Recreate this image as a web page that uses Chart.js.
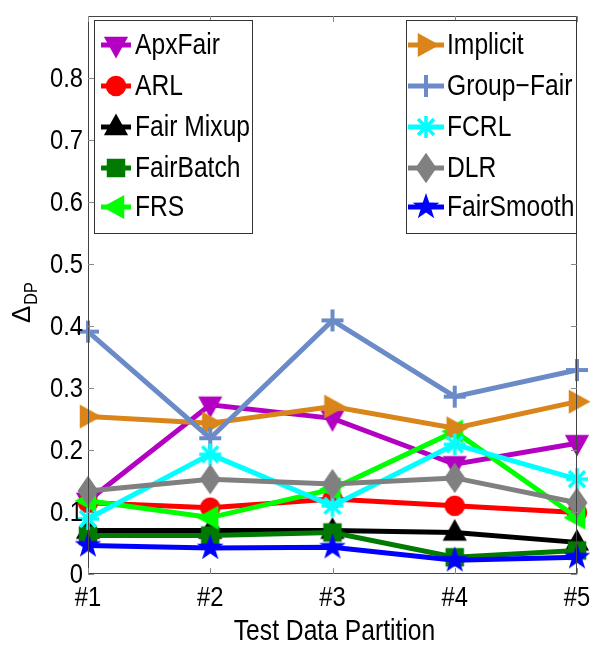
<!DOCTYPE html>
<html>
<head>
<meta charset="utf-8">
<script src="https://cdn.jsdelivr.net/npm/chart.js@4.4.0/dist/chart.umd.min.js"></script>
<style>
  html, body { margin: 0; padding: 0; background: #fff; }
  #wrap { width: 593px; height: 649px; }
</style>
</head>
<body>
<div id="wrap"><canvas id="myChart" width="593" height="649"></canvas></div>
<script>
// Datos
const particiones = ['#1', '#2', '#3', '#4', '#5'];

const apxFair    = [0.118, 0.273, 0.251, 0.177, 0.211];
const arl        = [0.115, 0.107, 0.121, 0.110, 0.099];
const fairMixup  = [0.070, 0.070, 0.070, 0.067, 0.051];
const fairBatch  = [0.062, 0.062, 0.067, 0.027, 0.038];
const frs        = [0.118, 0.091, 0.137, 0.230, 0.091];
const implicit   = [0.254, 0.243, 0.270, 0.235, 0.278];
const groupFair  = [0.391, 0.219, 0.409, 0.286, 0.329];
const fcrl       = [0.089, 0.193, 0.110, 0.209, 0.153];
const dlr        = [0.134, 0.153, 0.145, 0.155, 0.115];
const fairSmooth = [0.046, 0.042, 0.043, 0.022, 0.027];

const yTicks = [0, 0.1, 0.2, 0.3, 0.4, 0.5, 0.6, 0.7, 0.8];
const yTickLabels = ['0', '0.1', '0.2', '0.3', '0.4', '0.5', '0.6', '0.7', '0.8'];
const xTitulo = 'Test Data Partition';

const FONT = "'Liberation Sans', Arial, sans-serif";
const ESTRECHO = 0.85; // el texto original es condensado

// Marcadores estilo MATLAB dibujados en un canvas pequeño
function crearMarcador(tipo, color) {
    const c = document.createElement('canvas');
    c.width = 32; c.height = 32;
    const g = c.getContext('2d');
    g.translate(16, 16);
    g.fillStyle = color;
    g.strokeStyle = color;
    g.lineJoin = 'miter';
    g.lineWidth = 2.5;

    function tri(rot) {
        g.save();
        g.rotate(rot);
        g.beginPath();
        g.moveTo(0, -11);
        g.lineTo(10, 7);
        g.lineTo(-10, 7);
        g.closePath();
        g.fill(); g.stroke();
        g.restore();
    }

    if (tipo === 'down') tri(Math.PI);
    else if (tipo === 'up') tri(0);
    else if (tipo === 'left') tri(-Math.PI / 2);
    else if (tipo === 'right') tri(Math.PI / 2);
    else if (tipo === 'circle') {
        g.beginPath(); g.arc(0, 0, 9, 0, Math.PI * 2); g.fill(); g.stroke();
    } else if (tipo === 'square') {
        g.fillRect(-8, -8, 16, 16); g.strokeRect(-8, -8, 16, 16);
    } else if (tipo === 'diamond') {
        g.beginPath();
        g.moveTo(0, -13); g.lineTo(9, 0); g.lineTo(0, 13); g.lineTo(-9, 0);
        g.closePath(); g.fill(); g.stroke();
    } else if (tipo === 'plus') {
        g.lineWidth = 4;
        g.beginPath();
        g.moveTo(-11, 0); g.lineTo(11, 0);
        g.moveTo(0, -11); g.lineTo(0, 11);
        g.stroke();
    } else if (tipo === 'asterisk') {
        g.lineWidth = 3.5;
        g.beginPath();
        g.moveTo(-11, 0); g.lineTo(11, 0);
        g.moveTo(0, -11); g.lineTo(0, 11);
        g.moveTo(-8, -8); g.lineTo(8, 8);
        g.moveTo(-8, 8); g.lineTo(8, -8);
        g.stroke();
    } else if (tipo === 'pentagram') {
        g.beginPath();
        for (let i = 0; i < 10; i++) {
            const r = i % 2 === 0 ? 14 : 5.5;
            const a = -Math.PI / 2 + i * Math.PI / 5;
            const px = r * Math.cos(a), py = r * Math.sin(a);
            if (i === 0) g.moveTo(px, py); else g.lineTo(px, py);
        }
        g.closePath(); g.fill();
    }
    return c;
}

const series = [
    { label: 'ApxFair',    data: apxFair,    color: '#B300C2', marker: 'down' },
    { label: 'ARL',        data: arl,        color: '#FF0000', marker: 'circle' },
    { label: 'Fair Mixup', data: fairMixup,  color: '#000000', marker: 'up' },
    { label: 'FairBatch',  data: fairBatch,  color: '#007A00', marker: 'square' },
    { label: 'FRS',        data: frs,        color: '#00FF00', marker: 'left' },
    { label: 'Implicit',   data: implicit,   color: '#D9851A', marker: 'right' },
    { label: 'Group\u2212Fair', data: groupFair, color: '#6A8BC8', marker: 'plus' },
    { label: 'FCRL',       data: fcrl,       color: '#00FFFF', marker: 'asterisk' },
    { label: 'DLR',        data: dlr,        color: '#808080', marker: 'diamond' },
    { label: 'FairSmooth', data: fairSmooth, color: '#0000FF', marker: 'pentagram' }
];

series.forEach(s => { s.img = crearMarcador(s.marker, s.color); });

const datasets = series.map((s, i) => ({
    label: s.label,
    data: s.data,
    borderColor: s.color,
    backgroundColor: s.color,
    borderWidth: 5,
    tension: 0,
    fill: false,
    pointStyle: s.img,
    pointRadius: 11,
    order: series.length - i
}));

// texto comprimido horizontalmente
function textoEstrecho(ctx, txt, x, y, align, size) {
    ctx.save();
    ctx.font = size + 'px ' + FONT;
    ctx.fillStyle = '#000';
    ctx.textBaseline = 'middle';
    ctx.textAlign = align;
    ctx.translate(x, y);
    ctx.scale(ESTRECHO, 1);
    ctx.fillText(txt, 0, 0);
    ctx.restore();
}

// Caja, marcas interiores, etiquetas y leyendas
const matlabPlugin = {
    id: 'matlab',
    afterDatasetsDraw(chart) {
        const ctx = chart.ctx;
        const a = chart.chartArea;
        const xs = chart.scales.x, ys = chart.scales.y;
        ctx.save();
        ctx.strokeStyle = '#444';
        ctx.lineWidth = 1;
        ctx.beginPath();
        ctx.rect(a.left + 0.5, a.top + 0.5, a.right - a.left - 1, a.bottom - a.top - 1);
        ctx.stroke();
        ctx.strokeStyle = '#888';
        ctx.beginPath();
        particiones.forEach((p, i) => {
            const x = Math.round(xs.getPixelForValue(i)) + 0.5;
            ctx.moveTo(x, a.bottom); ctx.lineTo(x, a.bottom - 6);
            ctx.moveTo(x, a.top); ctx.lineTo(x, a.top + 6);
        });
        yTicks.forEach(v => {
            const y = Math.round(ys.getPixelForValue(v)) + 0.5;
            ctx.moveTo(a.left, y); ctx.lineTo(a.left + 6, y);
            ctx.moveTo(a.right, y); ctx.lineTo(a.right - 6, y);
        });
        ctx.stroke();
        ctx.restore();
    },
    afterDraw(chart) {
        const ctx = chart.ctx;
        const a = chart.chartArea;
        const xs = chart.scales.x, ys = chart.scales.y;

        // etiquetas de los ejes
        yTicks.forEach((v, i) => {
            textoEstrecho(ctx, yTickLabels[i], a.left - 5, ys.getPixelForValue(v) + 1, 'right', 28);
        });
        particiones.forEach((p, i) => {
            textoEstrecho(ctx, p, xs.getPixelForValue(i), 598, 'center', 28);
        });
        textoEstrecho(ctx, xTitulo, (a.left + a.right) / 2 + 2, 632, 'center', 29);

        // Delta_DP rotado
        ctx.save();
        ctx.translate(30, 323);
        ctx.rotate(-Math.PI / 2);
        ctx.fillStyle = '#000';
        ctx.textBaseline = 'alphabetic';
        ctx.font = '26px ' + FONT;
        ctx.fillText('\u0394', 0, 0);
        const w = ctx.measureText('\u0394').width;
        ctx.font = '19px ' + FONT;
        ctx.scale(ESTRECHO, 1);
        ctx.fillText('DP', (w + 1) / ESTRECHO, 7);
        ctx.restore();

        const cajas = [
            { x0: 94, y0: 20, x1: 252, y1: 233, l0: 101, l1: 131, tx: 135, items: series.slice(0, 5) },
            { x0: 406, y0: 20, x1: 576, y1: 233, l0: 408, l1: 444, tx: 447, items: series.slice(5) }
        ];
        const filas = [45, 86, 127, 168, 207];
        cajas.forEach(c => {
            ctx.save();
            ctx.fillStyle = '#fff';
            ctx.fillRect(c.x0, c.y0, c.x1 - c.x0, c.y1 - c.y0);
            ctx.strokeStyle = '#333';
            ctx.lineWidth = 1;
            ctx.strokeRect(c.x0 + 0.5, c.y0 + 0.5, c.x1 - c.x0, c.y1 - c.y0);
            c.items.forEach((s, i) => {
                const y = filas[i];
                ctx.strokeStyle = s.color;
                ctx.lineWidth = 5;
                ctx.beginPath();
                ctx.moveTo(c.l0, y); ctx.lineTo(c.l1, y);
                ctx.stroke();
                ctx.drawImage(s.img, (c.l0 + c.l1) / 2 - 16, y - 16);
                textoEstrecho(ctx, s.label, c.tx, y + 1, 'left', 29);
            });
            ctx.restore();
        });
    }
};

const ctx = document.getElementById('myChart').getContext('2d');
const myChart = new Chart(ctx, {
    type: 'line',
    data: { labels: particiones, datasets: datasets },
    options: {
        responsive: false,
        animation: false,
        devicePixelRatio: 1,
        layout: { padding: { top: 12, right: 10, left: 0, bottom: 0 } },
        plugins: {
            legend: { display: false },
            tooltip: { enabled: false }
        },
        scales: {
            x: {
                type: 'category',
                offset: false,
                grid: { display: false },
                border: { display: false },
                ticks: { display: false },
                afterFit: function(s) {
                    s.height = 75;
                    s.paddingLeft = 0;
                    s.paddingRight = 0;
                }
            },
            y: {
                min: 0,
                max: 0.9,
                grid: { display: false },
                border: { display: false },
                ticks: { display: false, stepSize: 0.1 },
                afterFit: function(s) {
                    s.width = 88;
                }
            }
        }
    },
    plugins: [matlabPlugin]
});
</script>
</body>
</html>
